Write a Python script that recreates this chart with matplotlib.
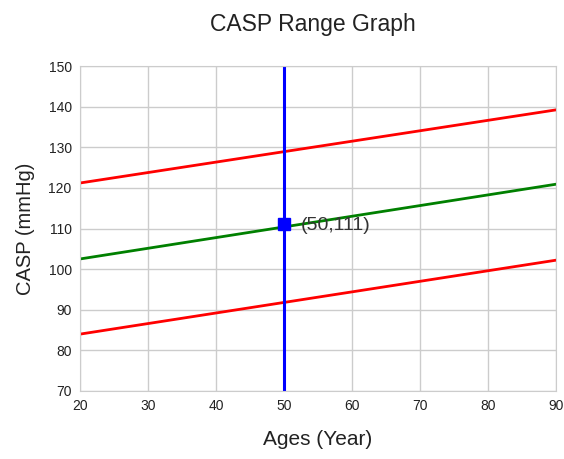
"""CASP range graph: expected CASP band by age with one patient point."""

import matplotlib.pyplot as plt

plt.rcParams["font.family"] = ["Liberation Sans", "DejaVu Sans"]

ages = [20, 90]
casp_upper = [121.2, 139.2]
casp_mid = [102.5, 120.9]
casp_lower = [84.0, 102.2]
patient_age = 50
patient_casp = 111
x_ticks = [20, 30, 40, 50, 60, 70, 80, 90]
y_ticks = [70, 80, 90, 100, 110, 120, 130, 140, 150]

fig = plt.figure(figsize=(5.64, 4.59), dpi=100)
ax = fig.add_axes([80 / 564, 1 - 391 / 459, 476 / 564, 325 / 459])

ax.plot(ages, casp_upper, color="#ff0000", linewidth=2)
ax.plot(ages, casp_mid, color="#008000", linewidth=2)
ax.plot(ages, casp_lower, color="#ff0000", linewidth=2)
ax.axvline(patient_age, color="#0000ff", linewidth=2.2)
ax.plot([patient_age], [patient_casp], marker="s", markersize=9,
        color="#0000ff", linestyle="none", zorder=5)
ax.annotate(f"({patient_age},{patient_casp})", (patient_age, patient_casp),
            xytext=(12, -1), textcoords="offset points", va="center",
            fontsize=14, color="#333333")

ax.set_xlim(20, 90)
ax.set_ylim(70, 150)
ax.set_xticks(x_ticks)
ax.set_yticks(y_ticks)
ax.tick_params(length=0, labelsize=10, colors="#222222", pad=6)
ax.grid(True, color="#cccccc", linewidth=1)
ax.set_axisbelow(True)
for s in ax.spines.values():
    s.set_color("#cccccc")

ax.set_xlabel("Ages (Year)", fontsize=15, labelpad=12, color="#222222")
ax.set_ylabel("CASP (mmHg)", fontsize=14.5, labelpad=10, color="#222222")
fig.text(313 / 564, 1 - 24 / 459, "CASP Range Graph", ha="center",
         va="center", fontsize=16.5, color="#222222")

fig.savefig("out.png", dpi=100)
